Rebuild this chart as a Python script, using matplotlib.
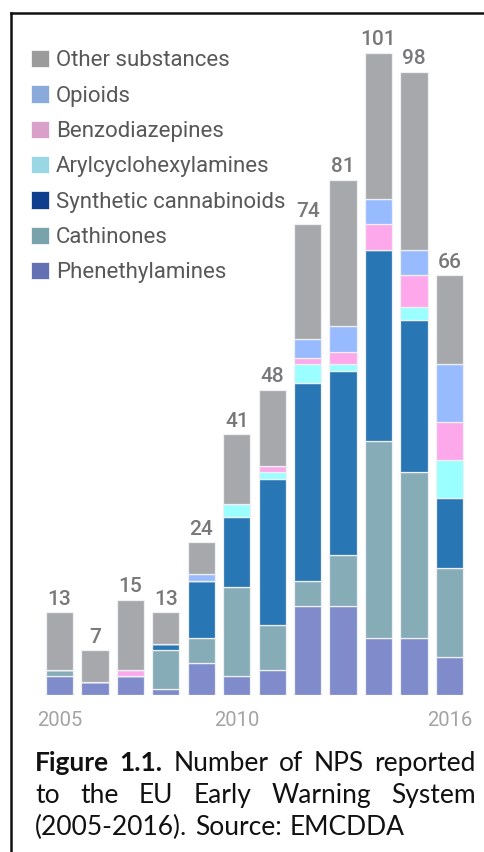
import numpy as np
import matplotlib
matplotlib.use("Agg")
import matplotlib.pyplot as plt
from matplotlib.patches import Patch
from matplotlib.lines import Line2D

years = list(range(2005, 2017))
year_ticks = [2005, 2010, 2016]

# counts per group, bottom to top of the stack
phenethylamines = [3, 2, 3, 1, 5, 3, 4, 14, 14, 9, 9, 6]
cathinones = [1, 0, 0, 6, 4, 14, 7, 4, 8, 31, 26, 14]
synthetic_cannabinoids = [0, 0, 0, 1, 9, 11, 23, 31, 29, 30, 24, 11]
arylcyclohexylamines = [0, 0, 0, 0, 0, 2, 1, 3, 1, 0, 2, 6]
benzodiazepines = [0, 0, 1, 0, 0, 0, 1, 1, 2, 4, 5, 6]
opioids = [0, 0, 0, 0, 1, 0, 0, 3, 4, 4, 4, 9]
other = [9, 5, 11, 5, 5, 11, 12, 18, 23, 23, 28, 14]

groups = ["Phenethylamines", "Cathinones", "Synthetic cannabinoids",
          "Arylcyclohexylamines", "Benzodiazepines", "Opioids", "Other substances"]
series = [phenethylamines, cathinones, synthetic_cannabinoids,
          arylcyclohexylamines, benzodiazepines, opioids, other]
bar_colors = ["#7f8bca", "#86acb8", "#2876b4", "#9cffff", "#fca8eb", "#98bbff", "#a7a8ab"]
key_colors = ["#6470b4", "#78a2ac", "#0f3e8f", "#99d7e5", "#d9a1c9", "#8aaadc", "#9b9b9b"]

W, H = 485, 852
fig = plt.figure(figsize=(W / 100, H / 100), dpi=100)
fig.patch.set_facecolor("white")

base = 695  # baseline, px from top
ppu = 6.36  # px per unit
ax = fig.add_axes([0, (H - base) / H, 1, base / H])
ax.set_xlim((0 - 59.5) / 35.45, (W - 59.5) / 35.45)
ax.set_ylim(0, base / ppu)
ax.axis("off")

x = np.arange(len(years))
bottom = np.zeros(len(years))
for vals, col in zip(series, bar_colors):
    bars = ax.bar(x, vals, 0.77, bottom=bottom, color=col,
                  edgecolor="#eef0f4", linewidth=0.9)
    bottom += np.array(vals)

totals = bottom.astype(int)
ax.bar_label(bars, labels=[str(t) for t in totals], padding=2.5,
             fontsize=15, color="#78787a", fontfamily="Roboto",
             fontweight="medium")

for yr in year_ticks:
    ax.text(years.index(yr), -26 / ppu, str(yr), ha="center", va="center",
            fontsize=14.5, color="#a3a3a3", fontfamily="Roboto")

handles = [Patch(facecolor=c, edgecolor="white", linewidth=0.5, label=g)
           for g, c in zip(groups, key_colors)]
handles = handles[::-1]
leg = fig.legend(handles=handles, loc="upper left",
                 bbox_to_anchor=(22 / W, 1 - 41 / H), frameon=False,
                 prop={"family": "Roboto", "size": 16},
                 handlelength=0.82, handleheight=0.82, handletextpad=0.3,
                 labelspacing=0.63, borderaxespad=0)
for t in leg.get_texts():
    t.set_color("#585858")

# frame on the left and top
fig.add_artist(Line2D([11 / W, 11 / W], [0, 1 - 13 / H], color="#111111",
                      linewidth=1.8, transform=fig.transFigure))
fig.add_artist(Line2D([11 / W, 1], [1 - 13 / H, 1 - 13 / H], color="#111111",
                      linewidth=1.8, transform=fig.transFigure))

# caption, justified between two margins
cap_font = "Lato"
cap_size = 19
lines = [
    ([("Figure", "bold"), ("1.1.", "bold"), ("Number", "normal"), ("of", "normal"),
      ("NPS", "normal"), ("reported", "normal")], 771, True),
    ([("to", "normal"), ("the", "normal"), ("EU", "normal"), ("Early", "normal"),
      ("Warning", "normal"), ("System", "normal")], 803, True),
    ([("(2005-2016).", "normal"), ("Source:", "normal"), ("EMCDDA", "normal")], 835, False),
]
x0, x1 = 35, 476
renderer = fig.canvas.get_renderer()
for words, yb, justify in lines:
    objs = [fig.text(0, 1 - yb / H, w, fontsize=cap_size, fontweight=wt,
                     fontfamily=cap_font, color="#111111", va="baseline")
            for w, wt in words]
    widths = [o.get_window_extent(renderer).width for o in objs]
    if justify:
        gap = (x1 - x0 - sum(widths)) / (len(objs) - 1)
    else:
        gap = 8
    pos = x0
    for o, w in zip(objs, widths):
        o.set_x(pos / W)
        pos += w + gap

fig.savefig("out.png", dpi=100, facecolor="white")
